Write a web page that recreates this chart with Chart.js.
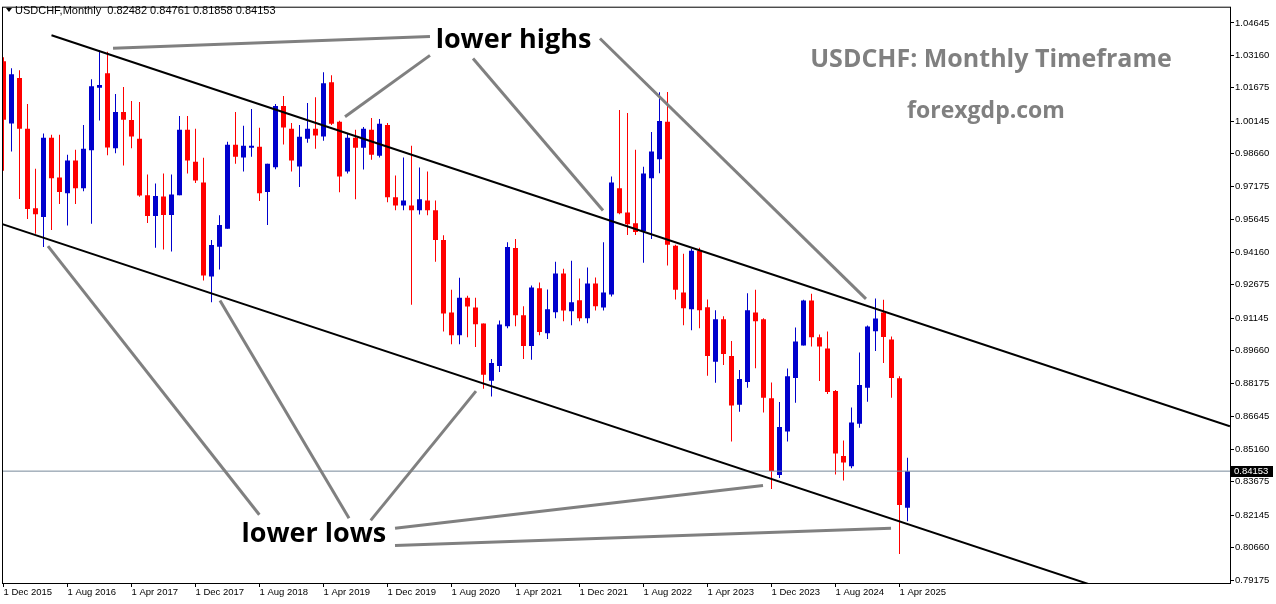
<!DOCTYPE html>
<html>
<head>
<meta charset="utf-8">
<title>USDCHF Monthly</title>
<script src="https://cdn.jsdelivr.net/npm/chart.js@4.4.1/dist/chart.umd.min.js"></script>
<style>
  html, body { margin: 0; padding: 0; background: #fff; }
  #wrap { width: 1276px; height: 604px; }
</style>
</head>
<body>
<div id="wrap"><canvas id="chart" width="1276" height="604"></canvas></div>
<script>
// monthly candles, Dec 2015 .. May 2025 (index 0 = Dec 2015)
const opens = [
  1.0289, 1.0004, 1.0212, 0.9980, 0.9617, 0.9577, 0.9939, 0.9758, 0.9686, 0.9835,
  0.9709, 0.9882, 1.0168, 1.0234, 0.9891, 1.0057, 1.0021, 0.9935, 0.9676, 0.9582,
  0.9671, 0.9586, 0.9677, 0.9976, 0.9830, 0.9735, 0.9305, 0.9441, 0.9523, 0.9907,
  0.9849, 0.9894, 0.9898, 0.9691, 0.9804, 1.0085, 0.9980, 0.9808, 0.9935, 0.9980,
  0.9945, 1.0193, 1.0012, 0.9785, 0.9939, 0.9894, 0.9976, 0.9857, 0.9998, 0.9667,
  0.9630, 0.9630, 0.9608, 0.9653, 0.9608, 0.9472, 0.9140, 0.9036, 0.9208, 0.9163,
  0.9090, 0.8828, 0.8896, 0.9078, 0.9435, 0.9128, 0.8987, 0.9251, 0.9046, 0.9142,
  0.9319, 0.9146, 0.9196, 0.9114, 0.9273, 0.9163, 0.9223, 0.9708, 0.9598, 0.9548,
  0.9512, 0.9754, 0.9841, 1.0012, 0.9446, 0.9232, 0.9155, 0.9423, 0.9164, 0.8915,
  0.9110, 0.8942, 0.8719, 0.8823, 0.9141, 0.9110, 0.8749, 0.8398, 0.8596, 0.8841,
  0.8990, 0.9195, 0.9027, 0.8976, 0.8782, 0.8485, 0.8438, 0.8632, 0.8796, 0.9055,
  0.9140, 0.9017, 0.8840, 0.82482
];
const highs = [
  1.0307, 1.0257, 1.0248, 1.0094, 0.9798, 0.9959, 0.9953, 0.9953, 0.9862, 0.9885,
  0.9998, 1.0207, 1.0339, 1.0333, 1.0139, 1.0171, 1.0107, 1.0103, 0.9771, 0.9730,
  0.9776, 0.9771, 1.0039, 1.0039, 0.9980, 0.9848, 0.9472, 0.9585, 0.9921, 1.0057,
  0.9994, 1.0071, 0.9985, 0.9821, 1.0094, 1.0130, 1.0007, 0.9998, 1.0098, 1.0125,
  1.0239, 1.0225, 1.0017, 0.9957, 0.9976, 0.9989, 1.0030, 1.0025, 1.0007, 0.9767,
  0.9849, 0.9903, 0.9803, 0.9785, 0.9653, 0.9494, 0.9244, 0.9299, 0.9217, 0.9208,
  0.9090, 0.8928, 0.9104, 0.9462, 0.9476, 0.9169, 0.9264, 0.9278, 0.9246, 0.9373,
  0.9341, 0.9377, 0.9296, 0.9346, 0.9300, 0.9462, 0.9762, 1.0066, 1.0053, 0.9885,
  0.9807, 0.9966, 1.0147, 1.0148, 0.9450, 0.9409, 0.9432, 0.9436, 0.9200, 0.9151,
  0.9123, 0.9010, 0.8878, 0.9228, 0.9245, 0.9114, 0.8820, 0.8731, 0.8885, 0.9072,
  0.9199, 0.9226, 0.9040, 0.9054, 0.8786, 0.8555, 0.8706, 0.8958, 0.9081, 0.9204,
  0.9199, 0.9031, 0.8849, 0.84761
];
const lows = [
  0.9788, 0.9877, 0.9659, 0.9568, 0.9500, 0.9440, 0.9518, 0.9636, 0.9538, 0.9636,
  0.9695, 0.9546, 1.0018, 0.9859, 0.9868, 0.9813, 0.9891, 0.9670, 0.9550, 0.9437,
  0.9428, 0.9419, 0.9677, 0.9776, 0.9732, 0.9287, 0.9187, 0.9337, 0.9523, 0.9821,
  0.9785, 0.9853, 0.9650, 0.9541, 0.9795, 0.9909, 0.9785, 0.9714, 0.9917, 0.9889,
  0.9926, 0.9998, 0.9690, 0.9776, 0.9658, 0.9794, 0.9839, 0.9849, 0.9644, 0.9608,
  0.9608, 0.9176, 0.9589, 0.9585, 0.9372, 0.9054, 0.8995, 0.8995, 0.9027, 0.8983,
  0.8792, 0.8756, 0.8869, 0.9069, 0.9078, 0.8928, 0.8924, 0.9037, 0.9019, 0.9114,
  0.9100, 0.9082, 0.9100, 0.9091, 0.9150, 0.9150, 0.9214, 0.9590, 0.9495, 0.9495,
  0.9368, 0.9477, 0.9777, 0.9355, 0.9200, 0.9082, 0.9059, 0.9069, 0.8851, 0.8819,
  0.8901, 0.8551, 0.8687, 0.8796, 0.8886, 0.8683, 0.8334, 0.8384, 0.8551, 0.8728,
  0.8990, 0.8985, 0.8827, 0.8768, 0.8400, 0.8373, 0.8429, 0.8614, 0.8733, 0.8964,
  0.8910, 0.8751, 0.8037, 0.81858
];
const closes = [
  1.0022, 1.0230, 0.9980, 0.9614, 0.9590, 0.9939, 0.9754, 0.9691, 0.9835, 0.9709,
  0.9889, 1.0175, 1.0180, 0.9895, 1.0057, 1.0022, 0.9945, 0.9675, 0.9582, 0.9673,
  0.9586, 0.9680, 0.9976, 0.9835, 0.9744, 0.9310, 0.9449, 0.9540, 0.9907, 0.9853,
  0.9903, 0.9903, 0.9686, 0.9821, 1.0085, 0.9986, 0.9835, 0.9944, 0.9980, 0.9950,
  1.0189, 1.0003, 0.9762, 0.9939, 0.9894, 0.9980, 0.9862, 1.0003, 0.9667, 0.9630,
  0.9653, 0.9608, 0.9658, 0.9608, 0.9472, 0.9136, 0.9036, 0.9208, 0.9168, 0.9087,
  0.8856, 0.8910, 0.9086, 0.9440, 0.9128, 0.8987, 0.9255, 0.9051, 0.9155, 0.9319,
  0.9150, 0.9187, 0.9114, 0.9273, 0.9169, 0.9232, 0.9735, 0.9594, 0.9544, 0.9508,
  0.9776, 0.9876, 1.0016, 0.9450, 0.9245, 0.9160, 0.9423, 0.9151, 0.8942, 0.9110,
  0.8951, 0.8715, 0.8837, 0.9151, 0.9100, 0.8751, 0.8416, 0.8617, 0.8849, 0.9008,
  0.9195, 0.9027, 0.8985, 0.8777, 0.8496, 0.8455, 0.8638, 0.8809, 0.9077, 0.9113,
  0.9028, 0.8841, 0.8260, 0.84153
];

// axis labels
const xTickLabels = [
  "1 Dec 2015", "1 Aug 2016", "1 Apr 2017", "1 Dec 2017", "1 Aug 2018",
  "1 Apr 2019", "1 Dec 2019", "1 Aug 2020", "1 Apr 2021", "1 Dec 2021",
  "1 Aug 2022", "1 Apr 2023", "1 Dec 2023", "1 Aug 2024", "1 Apr 2025"
];
const xTickEvery = 8;
const yTickValues = [
  1.04645, 1.03160, 1.01675, 1.00145, 0.98660, 0.97175, 0.95645, 0.94160, 0.92675,
  0.91145, 0.89660, 0.88175, 0.86645, 0.85160, 0.83675, 0.82145, 0.80660, 0.79175
];
const lastPrice = 0.84153;

// channel lines and annotation arrows, as [bar index, price]
const channelUpper = [[6, 1.0408], [153.3, 0.8620]];
const channelLower = [[-0.5, 0.9549], [153.3, 0.7685]];
const highLinks = [
  [[13.69, 1.0348], [53.31, 1.0402]],
  [[42.69, 1.0035], [53.31, 1.0316]],
  [[58.69, 1.0302], [74.94, 0.9607]],
  [[74.56, 1.0393], [107.81, 0.9203]]
];
const lowLinks = [
  [[5.56, 0.9444], [31.98, 0.8216]],
  [[27.06, 0.9195], [43.19, 0.8200]],
  [[59.06, 0.8781], [45.90, 0.8190]],
  [[48.94, 0.8154], [94.94, 0.8350]],
  [[48.94, 0.8075], [110.94, 0.8154]]
];
const highsLabel = { text: "lower highs", at: [63.75, 1.0348] };
const lowsLabel = { text: "lower lows", at: [38.8, 0.8091] };

const BULL = "#0000cd";
const BEAR = "#ff0000";
const candleColors = closes.map((c, i) => (c >= opens[i] ? BULL : BEAR));
const toPts = (seg) => seg.map(([x, y]) => ({ x, y }));

const xMin = -0.1875;
const xMax = 153.3125;

const datasets = [
  {
    type: "bar",
    data: lows.map((l, i) => ({ x: i, y: [l, highs[i]] })),
    backgroundColor: candleColors,
    grouped: false,
    maxBarThickness: 1,
    minBarLength: 1,
    order: 4,
  },
  {
    type: "bar",
    data: opens.map((o, i) => ({ x: i, y: [o, closes[i]] })),
    backgroundColor: candleColors,
    grouped: false,
    maxBarThickness: 5,
    minBarLength: 1,
    order: 3,
  },
  {
    type: "line",
    data: [{ x: xMin, y: lastPrice }, { x: xMax, y: lastPrice }],
    borderColor: "#778899",
    borderWidth: 1,
    pointRadius: 0,
    order: 2,
  },
];
[channelUpper, channelLower].forEach((seg) => {
  datasets.push({
    type: "line",
    data: toPts(seg),
    borderColor: "#000",
    borderWidth: 2,
    pointRadius: 0,
    order: 1,
  });
});
highLinks.concat(lowLinks).forEach((seg) => {
  datasets.push({
    type: "line",
    data: toPts(seg),
    borderColor: "#808080",
    borderWidth: 3,
    pointRadius: 0,
    order: 0,
  });
});

const decorations = {
  id: "decorations",
  afterDraw(chart) {
    const { ctx, chartArea: ca, scales } = chart;
    const xs = scales.x, ys = scales.y;
    ctx.save();

    // frame
    ctx.strokeStyle = "#000";
    ctx.lineWidth = 1;
    ctx.strokeRect(ca.left + 0.5, ca.top + 0.5, ca.right - ca.left, ca.bottom - ca.top);

    // header
    ctx.fillStyle = "#000";
    ctx.beginPath();
    ctx.moveTo(6, 8);
    ctx.lineTo(12, 8);
    ctx.lineTo(9, 12);
    ctx.closePath();
    ctx.fill();
    ctx.font = '11px "Liberation Sans"';
    ctx.textBaseline = "middle";
    ctx.textAlign = "left";
    ctx.fillText("USDCHF,Monthly  " + [opens[113], highs[113], lows[113], closes[113]].map((v) => v.toFixed(5)).join(" "), 15, 10.5);

    // annotation labels
    ctx.font = 'bold 27px "Open Sans"';
    ctx.textAlign = "center";
    ctx.textBaseline = "alphabetic";
    [highsLabel, lowsLabel].forEach((lab) => {
      ctx.fillText(lab.text, xs.getPixelForValue(lab.at[0]), ys.getPixelForValue(lab.at[1]));
    });

    ctx.fillStyle = "#808080";
    ctx.font = 'bold 25px "Open Sans"';
    ctx.fillText("USDCHF: Monthly Timeframe", 991, 67);
    ctx.font = 'bold 23px "Open Sans"';
    ctx.fillText("forexgdp.com", 986, 118);

    // last price tag
    const py = Math.round(ys.getPixelForValue(lastPrice));
    ctx.fillStyle = "#000";
    ctx.fillRect(ca.right + 1, py - 5, 42, 11);
    ctx.fillStyle = "#fff";
    ctx.font = '9.5px "Liberation Sans"';
    ctx.textAlign = "left";
    ctx.textBaseline = "middle";
    ctx.fillText(lastPrice.toFixed(5), ca.right + 4, py + 0.5);
    ctx.restore();
  },
};

new Chart(document.getElementById("chart").getContext("2d"), {
  type: "bar",
  data: { datasets },
  options: {
    responsive: false,
    animation: false,
    devicePixelRatio: 1,
    events: [],
    layout: { padding: { left: 2, top: 3, right: 0, bottom: 0 } },
    plugins: { legend: { display: false }, tooltip: { enabled: false } },
    scales: {
      x: {
        type: "linear",
        min: xMin,
        max: xMax,
        offset: false,
        grid: { display: true, offset: false, drawOnChartArea: false, drawTicks: true, tickLength: 4, color: "#000" },
        border: { display: false },
        afterBuildTicks(scale) {
          scale.ticks = xTickLabels.map((_, k) => ({ value: k * xTickEvery }));
        },
        afterFit(scale) {
          scale.height = 21;
        },
        ticks: {
          autoSkip: false,
          maxRotation: 0,
          minRotation: 0,
          align: "start",
          padding: 0,
          color: "#000",
          font: { family: "Liberation Sans", size: 9.5 },
          callback: (v, k) => xTickLabels[k],
        },
      },
      y: {
        type: "linear",
        position: "right",
        min: 0.79039,
        max: 1.05385,
        grid: { display: true, drawOnChartArea: false, drawTicks: true, tickLength: 4, color: "#000" },
        border: { display: false },
        afterBuildTicks(scale) {
          scale.ticks = yTickValues.map((v) => ({ value: v }));
        },
        afterFit(scale) {
          scale.width = 46;
        },
        ticks: {
          padding: 1,
          color: "#000",
          font: { family: "Liberation Sans", size: 9.5 },
          callback: (v) => Number(v).toFixed(5),
        },
      },
    },
  },
  plugins: [decorations],
});
</script>
</body>
</html>
